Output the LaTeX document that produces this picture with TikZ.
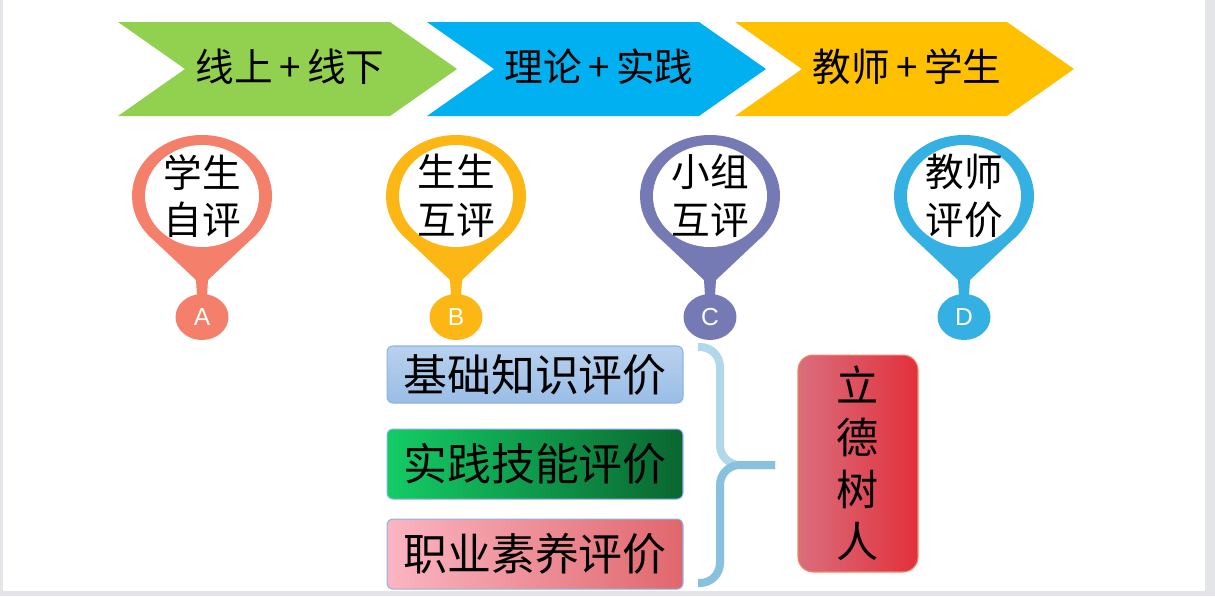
\documentclass[tikz,border=0pt]{standalone}
\usepackage{fontspec}
\setmainfont{Noto Sans CJK SC}
\newfontfamily\latinfont{Liberation Sans}
\usetikzlibrary{positioning, shapes.geometric}
\definecolor{cbg}{HTML}{E4E5E8}
\definecolor{cgreen}{HTML}{92D050}
\definecolor{cblue}{HTML}{00B0F0}
\definecolor{cyellow}{HTML}{FFC000}
\definecolor{pinA}{HTML}{F47F6A}
\definecolor{pinB}{HTML}{FDB714}
\definecolor{pinC}{HTML}{7579B4}
\definecolor{pinD}{HTML}{35B0E2}
\definecolor{braceup}{HTML}{B0D7EA}
\definecolor{bracelo}{HTML}{88C1DE}
\definecolor{edgeblue}{HTML}{8DB3E2}
\definecolor{edgegoal}{HTML}{F28664}
\definecolor{knowtop}{HTML}{B8D1EE}
\definecolor{knowbot}{HTML}{9ABDE6}
\definecolor{skillL}{HTML}{14CC66}
\definecolor{skillR}{HTML}{0A6630}
\definecolor{proL}{HTML}{FBB5C2}
\definecolor{proR}{HTML}{E0676C}
\definecolor{goalL}{HTML}{DA6E7C}
\definecolor{goalR}{HTML}{E2303C}
\tikzset{
  chevtext/.style={font=\fontsize{22}{26}\selectfont, inner sep=0pt},
  pintext/.style={font=\fontsize{22}{27}\selectfont, align=center, inner sep=0pt},
  tag/.style={ellipse, fill=#1, text=white, inner sep=0pt, minimum width=1.06cm, minimum height=0.92cm, font=\latinfont\fontsize{14}{16}\selectfont},
  evalbox/.style={draw=edgeblue, line width=0.6pt, rounded corners=0.12cm, minimum width=5.92cm, inner sep=0pt, font=\fontsize{25}{30}\selectfont},
  goalbox/.style={draw=edgegoal, line width=0.6pt, rounded corners=0.3cm, minimum width=2.4cm, minimum height=4.34cm, align=center, inner sep=0pt, font=\fontsize{24}{29.5}\selectfont},
  brace/.style={draw=#1, line width=0.16cm, rounded corners=0.4cm},
  pics/chevron/.style 2 args={code={
    \fill[#1] (0,0) -- (272,0) -- (339,47) -- (272,94) -- (0,94) -- (67,47) -- cycle;
    \node[chevtext] (-txt) at (172,45) {#2};
  }},
  pics/pin/.style n args={3}{code={
    \fill[#1] (-6,84) -- (133.4:70 and 61) arc[start angle=133.4, end angle=406.6, x radius=70, y radius=61] -- (6,84) -- (5,100) -- (-5,100) -- cycle;
    \fill[white] (0,0) ellipse[x radius=57, y radius=51];
    \node[pintext] (-txt) at (0,0) {#2};
    \node[tag=#1] (-tag) at (0,121) {#3};
  }},
}

\begin{document}
\begin{tikzpicture}[x=0.02cm, y=-0.02cm]
  \useasboundingbox (0,0) rectangle (1215,596);
  \fill[cbg] (0,0) rectangle (1215,596);
  \fill[white] (3,0) rectangle (1205,591);

  % top chevrons
  \pic (c1) at (118,22) {chevron={cgreen}{线上\,+\,线下}};
  \pic (c2) at (427,22) {chevron={cblue}{理论\,+\,实践}};
  \pic (c3) at (735,22) {chevron={cyellow}{教师\,+\,学生}};

  % four pins
  \pic (pa) at (202,196) {pin={pinA}{学生\\自评}{A}};
  \pic (pb) at (456,196) {pin={pinB}{生生\\互评}{B}};
  \pic (pc) at (710,196) {pin={pinC}{小组\\互评}{C}};
  \pic (pd) at (964,196) {pin={pinD}{教师\\评价}{D}};

  % evaluation boxes
  \node[evalbox, top color=knowtop, bottom color=knowbot, minimum height=1.14cm] (bk) at (535,374.5) {基础知识评价};
  \node[evalbox, left color=skillL, right color=skillR, minimum height=1.4cm, below=0.5cm of bk] (bs) {实践技能评价};
  \node[evalbox, left color=proL, right color=proR, minimum height=1.4cm, below=0.38cm of bs] (bp) {职业素养评价};

  % brace and goal
  \draw[brace=braceup] (698,347) -| (720,465) -- (775,465);
  \draw[brace=bracelo] (698,583) -| (720,465) -- (775,465);
  \node[goalbox, left color=goalL, right color=goalR] (goal) at (858,463.5) {立\\德\\树\\人};
\end{tikzpicture}
\end{document}
